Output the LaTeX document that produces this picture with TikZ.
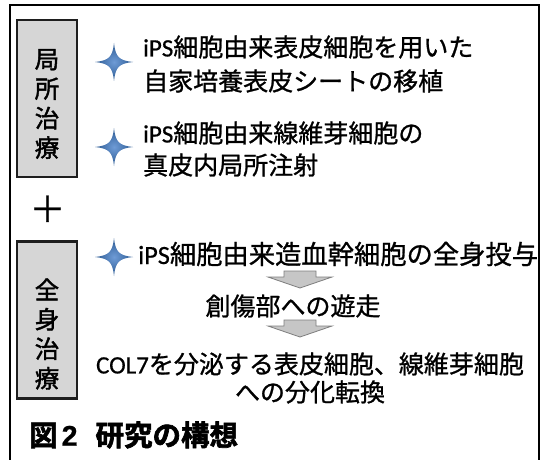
\documentclass[tikz,border=0pt]{standalone}
\usepackage{fontspec}
\setmainfont{Noto Sans CJK JP}[FakeBold=1.0]
\newfontfamily\labfont{Noto Sans CJK JP}[FakeBold=1.6]
\newfontfamily\capfont{Noto Sans CJK JP Bold}[FakeBold=2.2]
\newfontfamily\lat{Carlito}[FakeBold=0.6]
\newfontfamily\latb{Liberation Sans Bold}[FakeBold=0.8]
\definecolor{boxfill}{HTML}{D6D6D6}
\definecolor{boxline}{HTML}{1E1E1E}
\definecolor{starin}{HTML}{6E9BD6}
\definecolor{starout}{HTML}{2C5A92}
\definecolor{arrfill}{HTML}{C6C6C6}
\definecolor{arrline}{HTML}{7E7E7E}
\tikzset{
  labelbox/.style={draw=boxline, line width=2.6pt, fill=boxfill, minimum width=60pt, minimum height=157pt, inner sep=0pt},
  labeltext/.style={align=center, inner sep=0pt, font=\fontsize{24.5}{29.5}\selectfont\labfont},
  itemtext/.style={anchor=west, inner sep=0pt, font=\fontsize{25}{30}\selectfont},
  centertext/.style={inner sep=0pt, font=\fontsize{25}{30}\selectfont},
  blockarrow/.style={fill=arrfill, draw=arrline, line width=0.8pt, line join=miter},
  sparkle/.pic={
    \shade[inner color=starin, outer color=starout]
      (0,-19) .. controls (1.5,-5) and (5,-1.5) .. (19,0)
      .. controls (5,1.5) and (1.5,5) .. (0,19)
      .. controls (-1.5,5) and (-5,1.5) .. (-19,0)
      .. controls (-5,-1.5) and (-1.5,-5) .. (0,-19) -- cycle;
  }
}
\begin{document}
\begin{tikzpicture}[x=1pt,y=-1pt]
\useasboundingbox (0,0) rectangle (541,460);
\fill[white] (0,0) rectangle (541,460);
% outer frame (open at the bottom)
\draw[line width=2pt] (10,462) -- (10,5) -- (539,5) -- (539,462);
% category boxes
\node[labelbox] (box1) at (47,98.5) {};
\node[labeltext] (lab1) at (47,104) {局\\所\\治\\療};
\node[font=\fontsize{36}{36}\selectfont, inner sep=0pt] (plus) at (47.5,209) {＋};
\node[labelbox] (box2) at (47,320) {};
\node[labeltext] (lab2) at (47,334) {全\\身\\治\\療};
% sparkles
\coordinate (s1) at (114,62);
\coordinate (s2) at (114,147);
\coordinate (s3) at (114,257);
\pic at (s1) {sparkle};
\pic at (s2) {sparkle};
\pic at (s3) {sparkle};
% local treatment texts
\node[itemtext] (t1) at (143,47) {{\lat iPS}細胞由来表皮細胞を用いた};
\node[itemtext] (t2) at (143,81) {自家培養表皮シートの移植};
\node[itemtext] (t3) at (143,133) {{\lat iPS}細胞由来線維芽細胞の};
\node[itemtext] (t4) at (143,165) {真皮内局所注射};
% systemic treatment texts
\node[itemtext, font=\fontsize{26.3}{30}\selectfont] (t5) at (138,254) {{\lat iPS}細胞由来造血幹細胞の全身投与};
\node[centertext] (t6) at (293,306) {創傷部への遊走};
\node[centertext] (t7) at (310,364) {{\lat COL7}を分泌する表皮細胞、線維芽細胞};
\node[centertext] (t8) at (310,392) {への分化転換};
% block arrows
\coordinate (a1) at (300,271);
\coordinate (a2) at (300,320);
\foreach \a in {a1,a2}{
  \draw[blockarrow] ([xshift=-16pt]\a) -- ([xshift=16pt]\a) -- ([xshift=16pt,yshift=-6pt]\a)
    -- ([xshift=32pt,yshift=-6pt]\a) -- ([yshift=-17pt]\a) -- ([xshift=-32pt,yshift=-6pt]\a)
    -- ([xshift=-16pt,yshift=-6pt]\a) -- cycle;
}
% caption
\node[anchor=west, inner sep=0pt, font=\fontsize{28.5}{30}\selectfont\capfont] (cap) at (29,435) {図\hspace{4pt}{\latb 2}\hspace{18pt}研究の構想};
\end{tikzpicture}
\end{document}
